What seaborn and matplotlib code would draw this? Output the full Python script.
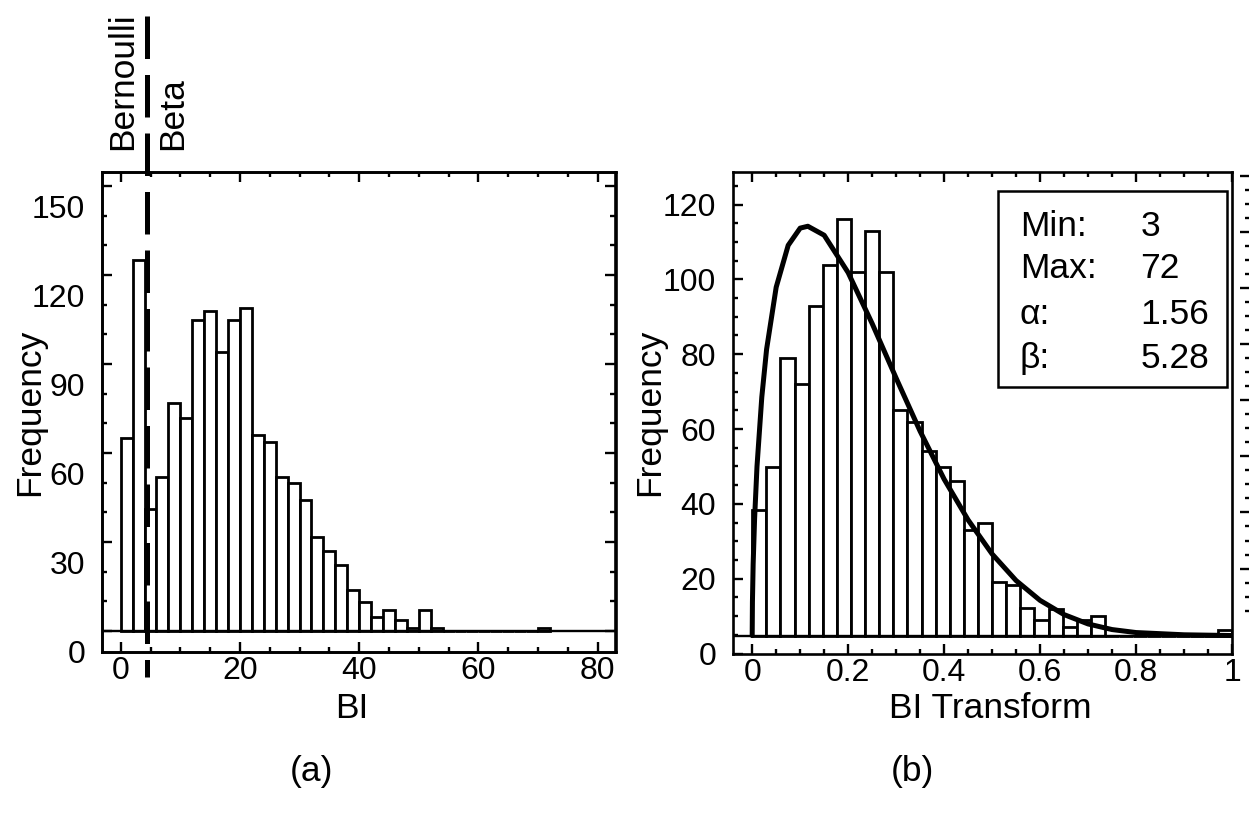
import numpy as np
import matplotlib
matplotlib.use("Agg")
import matplotlib.pyplot as plt
import matplotlib.ticker as mticker
from matplotlib.patches import Rectangle
import seaborn as sns

# ---- panel (a): BI histogram (bin width 2), bar tops as read on the axis
bi_edges = list(range(0, 72, 2))
bi_tops = [72.0, 131.9, 48.0, 58.9, 83.9, 78.9, 111.9, 114.8, 100.9, 111.9, 115.9, 73.0,
           70.8, 58.9, 57.0, 51.0, 38.8, 33.9, 29.1, 20.9, 16.9, 11.8, 13.9, 10.8,
           8.0, 13.9, 8.0, 7.0, 7.0, 7.0, 7.0, 7.0, 7.0, 7.0, 7.0, 8.0]
base_a = 7.0          # histogram baseline in panel (a)
split_bi = 4.4        # Bernoulli / Beta split
yticks_a = [0, 30, 60, 90, 120, 150]

# ---- panel (b): BI transform histogram (34 bins on [0, 1])
bt_edges = [i / 34 for i in range(34)]
bt_tops = [38.3, 49.9, 79.1, 72.0, 92.8, 103.9, 116.1, 102.1, 113.0, 102.1, 65.1, 62.0,
           54.1, 49.8, 46.1, 33.1, 34.9, 19.1, 18.2, 12.1, 9.0, 12.0, 7.2, 9.0, 9.9,
           4.8, 4.8, 4.8, 4.8, 4.8, 4.8, 4.8, 4.8, 6.2]
base_b = 4.8

# fitted beta curve
curve_x = [0.0, 0.0005, 0.002, 0.005, 0.01, 0.02, 0.03, 0.05, 0.075, 0.1, 0.116, 0.15,
           0.2, 0.25, 0.3, 0.35, 0.4, 0.45, 0.5, 0.55, 0.6, 0.65, 0.7, 0.75, 0.8, 0.9, 1.0]
curve_y = [4.8, 13.8, 23.9, 36.0, 50.0, 68.5, 81.3, 97.9, 109.1, 113.7, 114.2, 111.8,
           101.8, 88.2, 73.6, 59.4, 46.6, 35.7, 26.6, 19.5, 14.2, 10.4, 7.9, 6.4, 5.6, 5.0, 4.8]

stats_names = ["Min:", "Max:", "\u03b1:", "\u03b2:"]
stats_vals = ["3", "72", "1.56", "5.28"]

sns.set_style("ticks")
plt.rcParams["font.family"] = ["Liberation Sans", "DejaVu Sans"]
plt.rcParams.update({"axes.linewidth": 1.9, "text.color": "black", "axes.edgecolor": "black",
                     "xtick.color": "black", "ytick.color": "black",
                     "axes.labelcolor": "black"})

W, H = 1249, 814
fig = plt.figure(figsize=(W / 100, H / 100), dpi=100)
ax1 = fig.add_axes([102 / W, 1 - 651.7 / H, 513.5 / W, 479.7 / H])
ax2 = fig.add_axes([733 / W, 1 - 653.5 / H, 499 / W, 481.5 / H])

tick_fs = 23
txt_fs = 25.5

# ---------------- panel (a)
ax1.bar(bi_edges, np.array(bi_tops) - base_a, width=2, bottom=base_a, align="edge",
        color="white", edgecolor="black", linewidth=2.0, zorder=2)
ax1.axhline(base_a, color="black", lw=1.7, zorder=3)
ax1.plot([split_bi, split_bi], [214.3, -8.5], color="black", lw=3.6, dashes=(8.5, 3.2),
         clip_on=False, dash_capstyle="butt", zorder=4)

ax1.set_xlim(-3.14, 83.0)
ax1.set_ylim(0, 161.7)
ax1.xaxis.set_major_locator(mticker.MultipleLocator(20))
ax1.xaxis.set_minor_locator(mticker.MultipleLocator(5))
ax1.set_yticks(yticks_a)
ax1.tick_params(axis="y", which="both", length=0, pad=12, labelsize=tick_fs)
ax1.tick_params(axis="x", which="both", direction="in", top=True, bottom=True, width=1.7)
ax1.tick_params(axis="x", which="major", length=7, pad=3, labelsize=tick_fs)
ax1.tick_params(axis="x", which="minor", length=3.6)

# y tick marks in (a) sit on the baseline grid, not on the labels
mk = ax1.twinx()
mk.set_ylim(ax1.get_ylim())
mk.yaxis.set_major_locator(mticker.FixedLocator(np.arange(base_a, 162, 30)))
mk.yaxis.set_minor_locator(mticker.FixedLocator(np.arange(base_a, 162, 10)))
mk.tick_params(axis="y", which="both", direction="in", left=True, right=True,
               labelleft=False, labelright=False, width=1.7)
mk.tick_params(axis="y", which="major", length=7)
mk.tick_params(axis="y", which="minor", length=3.6)

# ---------------- panel (b)
ax2.bar(bt_edges, np.array(bt_tops) - base_b, width=1 / 34, bottom=base_b, align="edge",
        color="white", edgecolor="black", linewidth=2.0, zorder=2)
ax2.axhline(base_b, color="black", lw=1.7, zorder=3)
sns.lineplot(x=curve_x, y=curve_y, ax=ax2, color="black", lw=3.6, estimator=None,
             sort=False, zorder=4)

ax2.set_xlim(-0.04, 1.0)
ax2.set_ylim(0, 128.7)
ax2.xaxis.set_major_locator(mticker.MultipleLocator(0.2))
ax2.xaxis.set_minor_locator(mticker.MultipleLocator(0.05))
ax2.yaxis.set_major_locator(mticker.MultipleLocator(20))
ax2.yaxis.set_minor_locator(mticker.MultipleLocator(5))
ax2.xaxis.set_major_formatter(mticker.FuncFormatter(lambda v, p: f"{v:g}"))
ax2.tick_params(which="both", direction="in", top=True, bottom=True, left=True,
                right=False, width=1.7)
ax2.tick_params(which="major", length=7, labelsize=tick_fs)
ax2.tick_params(axis="x", which="major", pad=3)
ax2.tick_params(axis="y", which="major", pad=12)
ax2.tick_params(which="minor", length=3.6)

# detached tick column on the far right
rt = ax2.twinx()
rt.set_ylim(ax2.get_ylim())
rt.spines["right"].set_position(("outward", 13))
for s in rt.spines.values():
    s.set_visible(False)
rt.yaxis.set_major_locator(mticker.FixedLocator(np.arange(22.7, 128.5, 15)))
rt.yaxis.set_minor_locator(mticker.FixedLocator(np.arange(11.45, 128.5, 3.75)))
rt.tick_params(axis="y", which="both", direction="in", right=True, left=False,
               labelright=False, width=1.7)
rt.tick_params(axis="y", which="major", length=7)
rt.tick_params(axis="y", which="minor", length=3.6)

# stats box
ax2.add_patch(Rectangle((0.513, 71.3), 0.477, 52.45, facecolor="white",
                        edgecolor="black", lw=1.8, zorder=5))
for name, val, yb in zip(stats_names, stats_vals, [111.7, 100.4, 88.0, 76.4]):
    ax2.text(0.558, yb, name, fontsize=txt_fs, ha="left", va="baseline", zorder=6)
    ax2.text(0.809, yb, val, fontsize=txt_fs, ha="left", va="baseline", zorder=6)

# ---------------- labels
def ftxt(x, y, s, **kw):
    fig.text(x / W, 1 - y / H, s, fontsize=txt_fs, **kw)

ftxt(30, 412, "Frequency", rotation=90, ha="center", va="center")
ftxt(650, 412, "Frequency", rotation=90, ha="center", va="center")
ftxt(352, 709, "BI", ha="center", va="center")
ftxt(990, 709, "BI Transform", ha="center", va="center")
ftxt(312, 771, "(a)", ha="center", va="center")
ftxt(912, 771, "(b)", ha="center", va="center")
ftxt(123, 150, "Bernoulli", rotation=90, ha="center", va="bottom")
ftxt(173, 150, "Beta", rotation=90, ha="center", va="bottom")

fig.savefig("out.png", dpi=100)
